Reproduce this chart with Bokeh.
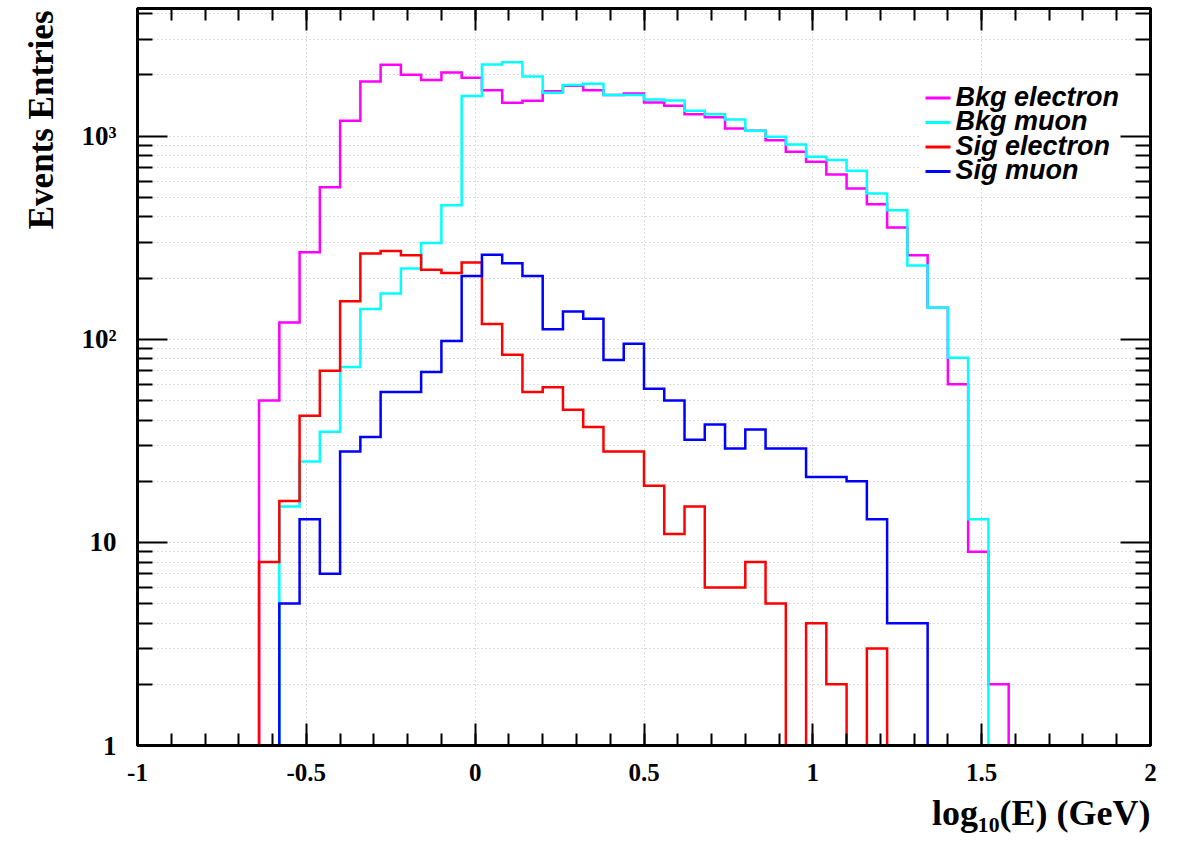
import numpy as np
from math import log10
from bokeh.plotting import figure
from bokeh.models import Range1d, FixedTicker, LinearAxis, LogAxis, Label, Title
from bokeh.embed import file_html
from bokeh.resources import INLINE

# ---------------- data (50 bins from -1 to 2 in log10(E)) ----------------
x_lo, x_hi, n_bins = -1.0, 2.0, 50

bkg_electron = [0, 0, 0, 0, 0, 0,
                50, 121, 268, 561, 1189, 1858, 2244, 2004, 1888, 2060,
                1937, 1680, 1459, 1492, 1662, 1770, 1680, 1592, 1622, 1466,
                1410, 1283, 1240, 1091, 1062, 955, 837, 747, 647, 552,
                462, 355, 259, 143, 60, 9, 2,
                0, 0, 0, 0, 0, 0, 0]
bkg_muon = [0, 0, 0, 0, 0, 0, 0,
            15, 25, 35, 73, 141, 168, 223, 298, 457, 1574,
            2255, 2310, 1968, 1634, 1784, 1811, 1592, 1592, 1517, 1497,
            1333, 1283, 1206, 1062, 993, 910, 791, 762, 675, 522,
            432, 231, 143, 81, 13,
            0, 0, 0, 0, 0, 0, 0, 0]
sig_electron = [0, 0, 0, 0, 0, 0,
                8, 16, 42, 70, 154, 264, 272, 259, 220, 212,
                239, 119, 84, 55, 58, 45, 37, 28, 28, 19,
                11, 15, 6, 6, 8, 5, 0, 4, 2, 0, 3,
                0, 0, 0, 0, 0, 0, 0, 0, 0, 0, 0, 0, 0]
sig_muon = [0, 0, 0, 0, 0, 0, 0,
            5, 13, 7, 28, 33, 55, 55, 69, 98, 205,
            261, 237, 205, 112, 137, 126, 79, 95, 57, 50,
            32, 38, 29, 36, 29, 29, 21, 21, 20, 13, 4, 4,
            0, 0, 0, 0, 0, 0, 0, 0, 0, 0, 0]

series_names = ["Bkg electron", "Bkg muon", "Sig electron", "Sig muon"]
series_colors = ["#ff00ff", "#00ffff", "#ff0000", "#0000ff"]

x_ticks = [-1, -0.5, 0, 0.5, 1, 1.5, 2]
x_tick_labels = ["-1", "-0.5", "0", "0.5", "1", "1.5", "2"]
y_ticks = [1, 10, 100, 1000]
y_tick_labels = ["1", "10", "10\u00b2", "10\u00b3"]

x_title = "log\u2081\u2080(E) (GeV)"
y_title = "Events Entries"

# ---------------- layout ----------------
W, H = 1181, 847
L, R, T, B = 137, 31, 8, 102
Y0, Y1 = 1.0, 4250.0
FW, FH = W - L - R, H - T - B

def xpx(px):
    """canvas pixel column -> x data value (for legend placement)"""
    return x_lo + (px - L) / FW * (x_hi - x_lo)

def ypx(py):
    """canvas pixel row -> y data value on the log axis (for legend placement)"""
    return 10 ** (log10(Y0) + (H - B - py) / FH * (log10(Y1) - log10(Y0)))

p = figure(width=W, height=H, x_range=Range1d(x_lo, x_hi), y_range=Range1d(Y0, Y1),
           y_axis_type="log", output_backend="svg", toolbar_location=None,
           min_border_left=L, min_border_right=R, min_border_top=T, min_border_bottom=B)
p.background_fill_color = "white"
p.border_fill_color = "white"
p.outline_line_color = "black"
p.outline_line_width = 3

x_minor = [round(x_lo + 0.1 * i, 2) for i in range(31)]
y_minor = [m * 10 ** d for d in range(4) for m in range(2, 10) if m * 10 ** d < Y1]

serif = "Liberation Serif"

def style_axis(ax, major_in, minor_in, show_labels):
    ax.major_tick_in = major_in
    ax.major_tick_out = 0
    ax.minor_tick_in = minor_in
    ax.minor_tick_out = 0
    ax.major_tick_line_width = 2
    ax.minor_tick_line_width = 2
    ax.major_tick_line_color = "black"
    ax.minor_tick_line_color = "black"
    ax.axis_line_width = 3
    ax.axis_line_color = "black"
    ax.major_label_text_color = "black"
    if not show_labels:
        ax.major_label_text_font_size = "1px"
        ax.major_label_text_color = None
        ax.major_label_standoff = 0

# bottom x axis
xax = p.xaxis[0]
xax.ticker = FixedTicker(ticks=x_ticks, minor_ticks=x_minor)
xax.major_label_overrides = {t: s for t, s in zip(x_ticks, x_tick_labels)}
style_axis(xax, 22, 12, True)
xax.major_label_text_font = serif
xax.major_label_text_font_style = "bold"
xax.major_label_text_font_size = "25px"
xax.major_label_standoff = 18

# left y axis
yax = p.yaxis[0]
yax.ticker = FixedTicker(ticks=y_ticks, minor_ticks=y_minor)
yax.major_label_overrides = {t: s for t, s in zip(y_ticks, y_tick_labels)}
style_axis(yax, 30, 15, True)
yax.major_label_text_font = serif
yax.major_label_text_font_style = "bold"
yax.major_label_text_font_size = "27px"
yax.major_label_standoff = 21

# top and right axes (ticks only)
top_ax = LinearAxis(ticker=FixedTicker(ticks=x_ticks, minor_ticks=x_minor))
style_axis(top_ax, 22, 12, False)
p.add_layout(top_ax, "above")
right_ax = LogAxis(ticker=FixedTicker(ticks=y_ticks, minor_ticks=y_minor))
style_axis(right_ax, 30, 15, False)
p.add_layout(right_ax, "right")

# axis titles (ROOT style: at the far end of each axis)
p.add_layout(Title(text=y_title, align="right", vertical_align="bottom", standoff=36,
                   offset=2, text_font=serif, text_font_style="bold",
                   text_font_size="35px", text_color="black"), "left")
p.add_layout(Title(text=x_title, align="right", vertical_align="bottom", standoff=14,
                   offset=0, text_font=serif, text_font_style="bold",
                   text_font_size="36px", text_color="black"), "below")

# grids
for g in (p.xgrid[0], p.ygrid[0]):
    g.grid_line_color = "#b8b8b8"
    g.grid_line_dash = "1 3"
    g.grid_line_width = 1
p.ygrid[0].minor_grid_line_color = "#b8b8b8"
p.ygrid[0].minor_grid_line_dash = "1 3"
p.ygrid[0].minor_grid_line_width = 1

# histograms
edges = np.linspace(x_lo, x_hi, n_bins + 1)
all_series = [bkg_electron, bkg_muon, sig_electron, sig_muon]
for color, vals in zip(series_colors, all_series):
    v = np.maximum(np.asarray(vals, dtype=float), Y0)
    yv = np.append(v, v[-1])
    p.step(x=edges, y=yv, mode="after", line_color=color, line_width=2.5,
           line_join="miter")

# legend (ROOT TLegend look: white box, short line sample, bold italic text)
leg_left, leg_right, leg_top, leg_bottom = 920, 1132, 82, 184
p.quad(left=[xpx(leg_left)], right=[xpx(leg_right)], top=[ypx(leg_top)],
       bottom=[ypx(leg_bottom)], fill_color="white", line_color=None)
row_pitch = 24.5
for i, (name, color) in enumerate(zip(series_names, series_colors)):
    y_line = ypx(97.5 + i * row_pitch)
    p.line(x=[xpx(925), xpx(950)], y=[y_line, y_line], line_color=color, line_width=3)
    p.add_layout(Label(x=xpx(955), y=ypx(96 + i * row_pitch), text=name,
                       text_align="left", text_baseline="middle",
                       text_font="Liberation Sans", text_font_style="bold italic",
                       text_font_size="27px", text_color="black"))

open("out.html", "w").write(file_html(p, INLINE))
